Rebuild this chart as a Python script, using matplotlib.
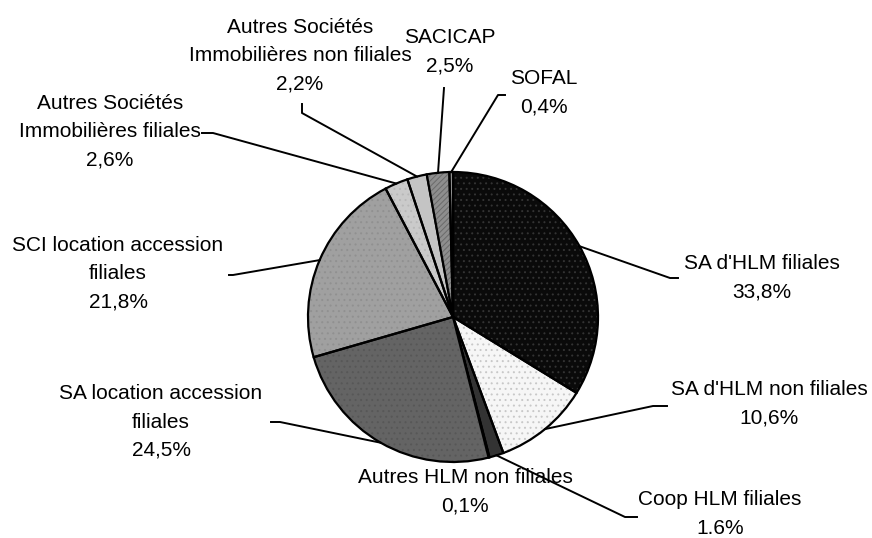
import numpy as np
import matplotlib
matplotlib.use('Agg')
import matplotlib.pyplot as plt

# data
labels = ["SA d'HLM filiales", "SA d'HLM non filiales", "Coop HLM filiales",
          "Autres HLM non filiales", "SA location accession\nfiliales",
          "SCI location accession\nfiliales", "Autres Sociétés\nImmobilières filiales",
          "Autres Sociétés\nImmobilières non filiales", "SACICAP", "SOFAL"]
pct_text = ["33,8%", "10,6%", "1.6%", "0,1%", "24,5%", "21,8%", "2,6%", "2,2%", "2,5%", "0,4%"]
values = [33.8, 10.6, 1.6, 0.1, 24.5, 21.8, 2.6, 2.2, 2.5, 0.4]

# styles
colors = ['#0a0a0a', '#f6f6f6', '#333333', '#1a1a1a', '#646464',
          '#a0a0a0', '#cacaca', '#c4c4c4', '#8e8e8e', '#b4b4b4']
hatches = ['...', '...', '', '', '...', '...', '...', '', '//////', '']
hatch_cols = ['#333333', '#c8c8c8', '', '', '#575757', '#909090', '#b8b8b8', '', '#6a6a6a', '']

W, H = 872, 538
cx, cy, R = 453, 317, 145

def px(x, y):
    return ((x - cx) / R, (cy - y) / R)

# label layout in pixels: text centre, elbow, end of leader (None = no leader)
text_pos = [(762, 278), (769, 404), (720, 514), (465, 492), (161, 422),
            (118, 274), (110, 132), (300, 56), (450, 52), (544, 93)]
elbows = [(670, 278), (653, 406), (625, 517), None, (280, 422),
          (233, 275), (213, 133), (302, 113), None, (498, 95)]
ends = [(678, 278), (667, 406), (637, 517), None, (271, 422),
        (229, 275), (202, 133), (302, 104), (444, 88), (505, 95)]

plt.rcParams['font.family'] = ['Liberation Sans', 'DejaVu Sans']
plt.rcParams['hatch.linewidth'] = 0.7
fig = plt.figure(figsize=(W / 100, H / 100), dpi=100)
ax = fig.add_axes([0, 0, 1, 1])

wedges, _ = ax.pie(values, startangle=90, counterclock=False, colors=colors,
                   radius=1, center=(0, 0),
                   wedgeprops=dict(edgecolor='black', linewidth=1.6))
for w, h, hc in zip(wedges, hatches, hatch_cols):
    if h:
        w.set_hatch(h)
        w.set_edgecolor(hc)
        w.set_linewidth(0)
        ax.add_patch(matplotlib.patches.Wedge(w.center, w.r, w.theta1, w.theta2,
                                              facecolor='none', edgecolor='black',
                                              linewidth=1.6, zorder=3))

for i, w in enumerate(wedges):
    mid = np.deg2rad((w.theta1 + w.theta2) / 2)
    start = (np.cos(mid), np.sin(mid))
    if ends[i] is not None:
        pts = [start]
        if elbows[i] is not None:
            pts.append(px(*elbows[i]))
        pts.append(px(*ends[i]))
        xs, ys = zip(*pts)
        ax.plot(xs, ys, color='black', linewidth=1.4, zorder=4)
    tx, ty = px(*text_pos[i])
    ax.text(tx, ty, labels[i] + "\n" + pct_text[i], ha='center', va='center',
            fontsize=15, linespacing=1.62, zorder=5)

x0, y0 = px(0, H)
x1, y1 = px(W, 0)
ax.set_xlim(x0, x1)
ax.set_ylim(y0, y1)
ax.set_aspect('equal')
ax.axis('off')

fig.savefig('out.png', dpi=100, facecolor='white')
